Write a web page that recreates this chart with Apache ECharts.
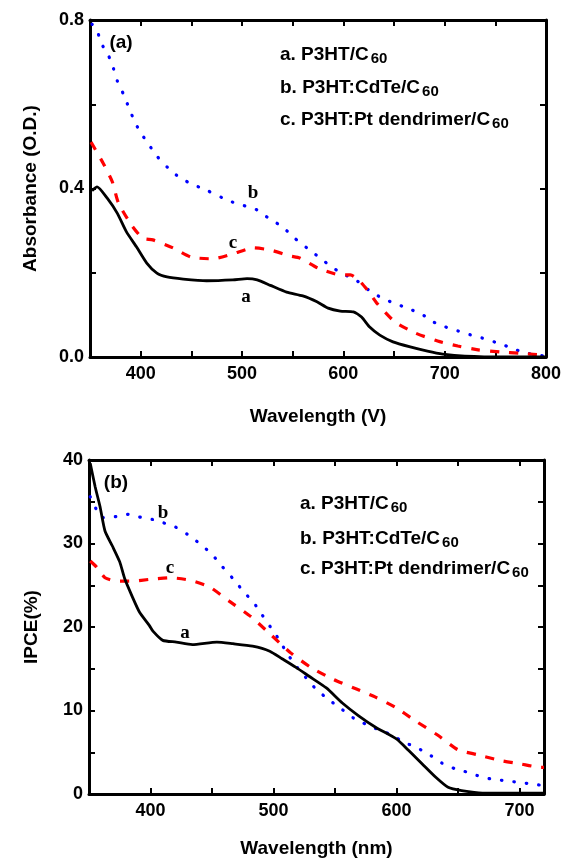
<!DOCTYPE html>
<html>
<head>
<meta charset="utf-8">
<script src="https://cdn.jsdelivr.net/npm/echarts@6/dist/echarts.min.js"></script>
<style>
  html, body { margin: 0; padding: 0; background: #fff; }
  #chart { width: 568px; height: 859px; }
</style>
</head>
<body>
<div id="chart"></div>
<script>
// (a) absorbance
const absWlA = [352, 357, 367, 377, 386, 396, 406, 416, 426, 442, 465, 491, 505, 515, 528, 544, 560, 574, 585, 597, 610, 618, 626, 636, 649, 666, 683, 698, 720, 760, 800];
const absA = [0.395, 0.404, 0.377, 0.341, 0.297, 0.261, 0.223, 0.199, 0.19, 0.185, 0.181, 0.183, 0.186, 0.183, 0.17, 0.154, 0.145, 0.131, 0.116, 0.109, 0.107, 0.095, 0.071, 0.052, 0.036, 0.024, 0.014, 0.007, 0.002, 0.0, 0.0];
const absWlB = [352, 357, 361, 368, 373, 377, 383, 388, 393, 399, 407, 416, 427, 439, 452, 465, 488, 515, 526, 540, 551, 564, 577, 589, 600, 614, 625, 638, 650, 663, 677, 689, 700, 713, 725, 737, 750, 762, 774, 787, 800];
const absB = [0.79, 0.775, 0.745, 0.717, 0.686, 0.655, 0.624, 0.594, 0.565, 0.536, 0.508, 0.477, 0.449, 0.425, 0.409, 0.396, 0.37, 0.349, 0.33, 0.309, 0.284, 0.259, 0.235, 0.213, 0.197, 0.18, 0.159, 0.14, 0.128, 0.116, 0.102, 0.083, 0.072, 0.062, 0.053, 0.045, 0.035, 0.025, 0.014, 0.006, 0.002];
const absWlC = [351, 363, 372, 378, 391, 402, 412, 432, 450, 471, 491, 511, 528, 547, 557, 575, 597, 607, 617, 625, 633, 651, 671, 693, 713, 733, 755, 774, 796, 800];
const absC = [0.51, 0.46, 0.416, 0.366, 0.313, 0.282, 0.278, 0.259, 0.237, 0.233, 0.245, 0.259, 0.254, 0.24, 0.235, 0.211, 0.195, 0.195, 0.178, 0.155, 0.128, 0.083, 0.057, 0.038, 0.026, 0.017, 0.012, 0.009, 0.005, 0.005];

// (b) IPCE
const ipceWlA = [351, 355, 359, 363, 369, 375, 379, 385, 391, 399, 402, 410, 421, 434, 454, 467, 483, 497, 507, 518, 529, 543, 556, 569, 583, 600, 610, 621, 632, 642, 653, 670, 720];
const ipceA = [39.6, 36.8, 34.4, 31.5, 29.7, 27.8, 25.8, 23.7, 21.8, 20.2, 19.5, 18.4, 18.2, 17.9, 18.2, 18.0, 17.7, 17.1, 16.2, 15.2, 14.1, 12.7, 10.9, 9.4, 8.0, 6.6, 5.2, 3.6, 2.0, 0.8, 0.4, 0.1, 0.1];
const ipceWlB = [351, 361, 371, 381, 390, 401, 410, 420, 430, 440, 450, 458, 467, 476, 484, 491, 498, 505, 510, 518, 526, 535, 545, 556, 565, 576, 587, 596, 606, 616, 628, 637, 648, 658, 668, 677, 688, 699, 710, 720];
const ipceB = [35.6, 33.1, 33.2, 33.5, 33.2, 32.9, 32.5, 32.0, 31.1, 30.0, 28.7, 27.3, 25.8, 24.2, 22.9, 21.4, 19.9, 18.4, 17.1, 15.4, 14.0, 12.5, 11.3, 10.1, 9.1, 8.3, 7.6, 7.1, 6.2, 5.6, 4.6, 3.7, 3.0, 2.6, 2.1, 1.8, 1.6, 1.4, 1.2, 1.0];
const ipceWlC = [351, 356, 363, 373, 386, 399, 416, 432, 448, 464, 482, 497, 514, 531, 549, 567, 583, 599, 615, 634, 650, 666, 685, 701, 717, 720];
const ipceC = [27.9, 27.2, 25.9, 25.5, 25.5, 25.7, 25.9, 25.6, 24.8, 23.1, 21.2, 19.2, 16.9, 15.1, 13.7, 12.6, 11.6, 10.4, 8.8, 7.0, 5.3, 4.7, 4.0, 3.6, 3.2, 3.2];

const legendLines = [['a. P3HT/C', '60'], ['b. P3HT:CdTe/C', '60'], ['c. P3HT:Pt dendrimer/C', '60']];

const zip = (xs, ys) => xs.map((x, i) => [x, ys[i]]);

const SANS = 'Liberation Sans, Arial, sans-serif';
const SERIF = 'Liberation Serif, Times New Roman, serif';

function xAxisFor(gridIndex, max, top) {
    return {
        type: 'value', gridIndex, min: 350, max, interval: 50,
        position: top ? 'top' : 'bottom',
        axisLine: { show: true, onZero: false, lineStyle: { color: '#000', width: 3 } },
        axisTick: { show: true, inside: true, length: 6, lineStyle: { color: '#000', width: 2 } },
        splitLine: { show: false },
        axisLabel: {
            show: !top, color: '#000', fontFamily: SANS, fontWeight: 'bold', fontSize: 18, margin: 8,
            formatter: v => (v % 100 === 0 ? String(v) : '')
        }
    };
}

function yAxisFor(gridIndex, max, interval, right, fmt) {
    return {
        type: 'value', gridIndex, min: 0, max, interval,
        position: right ? 'right' : 'left',
        axisLine: { show: true, onZero: false, lineStyle: { color: '#000', width: 3 } },
        axisTick: { show: true, inside: true, length: 6, lineStyle: { color: '#000', width: 2 } },
        splitLine: { show: false },
        axisLabel: {
            show: !right, color: '#000', fontFamily: SANS, fontWeight: 'bold', fontSize: 18, margin: 6,
            formatter: fmt
        }
    };
}

const chart = echarts.init(document.getElementById('chart'));

const xs = [xAxisFor(0, 800, false), xAxisFor(0, 800, true), xAxisFor(1, 720, false), xAxisFor(1, 720, true)];
Object.assign(xs[0], { name: 'Wavelength (V)', nameLocation: 'middle', nameGap: 50,
    nameTextStyle: { color: '#000', fontFamily: SANS, fontWeight: 'bold', fontSize: 19 } });
Object.assign(xs[2], { name: 'Wavelength (nm)', nameLocation: 'middle', nameGap: 45,
    nameTextStyle: { color: '#000', fontFamily: SANS, fontWeight: 'bold', fontSize: 19 } });

const ys = [
    yAxisFor(0, 0.8, 0.2, false, v => (Math.round(v * 10) % 4 === 0 ? v.toFixed(1) : '')),
    yAxisFor(0, 0.8, 0.2, true),
    yAxisFor(1, 40, 5, false, v => (v % 10 === 0 ? String(v) : '')),
    yAxisFor(1, 40, 5, true)
];
Object.assign(ys[0], { name: 'Absorbance (O.D.)', nameLocation: 'middle', nameGap: 50, nameRotate: 90,
    nameTextStyle: { color: '#000', fontFamily: SANS, fontWeight: 'bold', fontSize: 19 } });
Object.assign(ys[2], { name: 'IPCE(%)', nameLocation: 'middle', nameGap: 48, nameRotate: 90,
    nameTextStyle: { color: '#000', fontFamily: SANS, fontWeight: 'bold', fontSize: 19 } });

const solid = { color: '#000', width: 2.8, type: 'solid' };
const dashed = { color: '#ff0000', width: 3.2, type: [9, 10] };
const dotted = { color: '#0000ff', width: 3.2, type: [0.5, 12], cap: 'round' };

function line(xi, yi, data, style) {
    return { type: 'line', xAxisIndex: xi, yAxisIndex: yi, data, showSymbol: false, smooth: 0.2,
        lineStyle: style, silent: true, animation: false };
}

function legendGraphic(x, ys0) {
    return legendLines.map((l, i) => ({
        type: 'text', left: x, top: ys0[i],
        style: {
            text: '{m|' + l[0] + '}{s|' + l[1] + '}',
            rich: {
                m: { fontFamily: SANS, fontWeight: 'bold', fontSize: 19, fill: '#000', lineHeight: 24 },
                s: { fontFamily: SANS, fontWeight: 'bold', fontSize: 15, fill: '#000', lineHeight: 4, verticalAlign: 'bottom', padding: [0, 0, 0, 2] }
            }
        }
    }));
}

function label(text, x, y, font, size) {
    return { type: 'text', x, y, style: { text, fontFamily: font, fontWeight: 'bold', fontSize: size, fill: '#000',
        textAlign: 'center', textVerticalAlign: 'middle' } };
}

chart.setOption({
    animation: false,
    backgroundColor: '#fff',
    grid: [
        { left: 90, right: 22, top: 20, bottom: 502 },
        { left: 89, right: 24, top: 460, bottom: 62 }
    ],
    xAxis: xs,
    yAxis: ys,
    series: [
        line(0, 0, zip(absWlB, absB), dotted),
        line(0, 0, zip(absWlC, absC), dashed),
        line(0, 0, zip(absWlA, absA), solid),
        line(2, 2, zip(ipceWlB, ipceB), dotted),
        line(2, 2, zip(ipceWlC, ipceC), dashed),
        line(2, 2, zip(ipceWlA, ipceA), solid)
    ],
    graphic: [
        ...legendGraphic(280, [45, 78, 110]),
        ...legendGraphic(300, [494, 529, 559]),
        label('(a)', 121, 43, SANS, 19),
        label('(b)', 116, 483, SANS, 19),
        label('b', 253, 193, SERIF, 19),
        label('c', 233, 243, SERIF, 19),
        label('a', 246, 297, SERIF, 19),
        label('b', 163, 513, SERIF, 19),
        label('c', 170, 568, SERIF, 19),
        label('a', 185, 633, SERIF, 19)
    ]
});

window.addEventListener('resize', () => chart.resize());
</script>
</body>
</html>
